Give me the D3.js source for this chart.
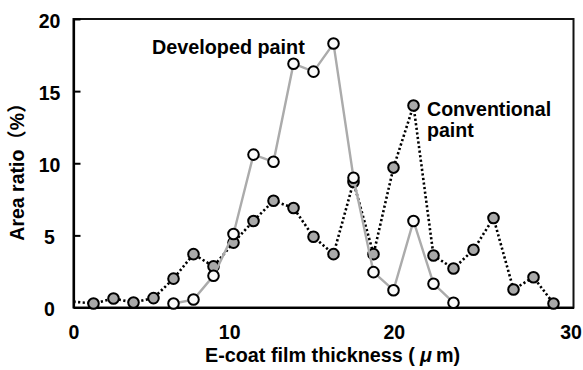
<!DOCTYPE html>
<html>
<head>
<meta charset="utf-8">
<script src="https://cdn.jsdelivr.net/npm/d3@7/dist/d3.min.js"></script>
<style>
html,body{margin:0;padding:0;background:#fff;}
svg{display:block;}
text{font-family:"Liberation Sans",Arial,"Noto Sans CJK JP",sans-serif;font-weight:bold;fill:#000;}
</style>
</head>
<body>
<svg id="chart" width="583" height="370"></svg>
<script>
// Conventional paint (grey markers, dotted black line); first point at x=0 has no marker
const convX = [0, 1.2, 2.4, 3.6, 4.8, 6.0, 7.2, 8.4, 9.6, 10.8, 12.0, 13.2, 14.4, 15.6, 16.8, 18.0, 19.2, 20.4, 21.6, 22.8, 24.0, 25.2, 26.4, 27.6, 28.8];
const convY = [0.4, 0.28, 0.62, 0.35, 0.65, 2.0, 3.7, 2.85, 4.5, 6.0, 7.4, 6.9, 4.9, 3.7, 8.7, 3.7, 9.7, 14.0, 3.6, 2.7, 4.0, 6.2, 1.25, 2.1, 0.28];
// Developed paint (white markers, solid grey line)
const devX = [6.0, 7.2, 8.4, 9.6, 10.8, 12.0, 13.2, 14.4, 15.6, 16.8, 18.0, 19.2, 20.4, 21.6, 22.8];
const devY = [0.28, 0.55, 2.2, 5.1, 10.6, 10.1, 16.9, 16.35, 18.3, 9.0, 2.45, 1.2, 6.0, 1.65, 0.33];
const yTicks = [0, 5, 10, 15, 20];
const xTicks = [0, 10, 20, 30];

const svg = d3.select("#chart");
const xs = d3.scaleLinear().domain([0, 30]).range([73.5, 573.5]);
const ys = d3.scaleLinear().domain([0, 20]).range([307.5, 19]);

// plot frame (top/right)
svg.append("rect").attr("x", xs(0)).attr("y", ys(20)).attr("width", xs(30) - xs(0)).attr("height", ys(0) - ys(20))
  .attr("fill", "none").attr("stroke", "#111").attr("stroke-width", 2);

// y axis
const yAxis = d3.axisLeft(ys).tickValues(yTicks).tickSizeInner(-7).tickSizeOuter(0).tickFormat(d3.format("d"));
const gy = svg.append("g").attr("transform", `translate(${xs(0)},0)`).call(yAxis);
gy.select(".domain").attr("stroke", "#000").attr("stroke-width", 2.2);
gy.selectAll(".tick line").attr("stroke", "#000").attr("stroke-width", 2);
gy.selectAll(".tick text").attr("x", -24).attr("text-anchor", "middle").attr("dy", "0.42em")
  .style("font-size", "19.5px").style("font-family", '"Liberation Sans",Arial,sans-serif').style("font-weight", "bold");

// x axis
const xAxis = d3.axisBottom(xs).tickValues(xTicks).tickSize(0).tickFormat(d3.format("d"));
const gx = svg.append("g").attr("transform", `translate(0,${ys(0)})`).call(xAxis);
gx.select(".domain").attr("stroke", "#000").attr("stroke-width", 2.2);
const xLabelShift = [0, -11, -13, -3];
gx.selectAll(".tick text").attr("y", 18).attr("dy", "0.71em")
  .attr("dx", (d, i) => xLabelShift[i])
  .style("font-size", "19.5px").style("font-family", '"Liberation Sans",Arial,sans-serif').style("font-weight", "bold");

const conv = convX.map((v, i) => ({x: v, y: convY[i]}));
const dev = devX.map((v, i) => ({x: v, y: devY[i]}));
const line = d3.line().x(d => xs(d.x)).y(d => ys(d.y));

svg.append("path").datum(conv).attr("d", line).attr("fill", "none")
  .attr("stroke", "#000").attr("stroke-width", 2.6).attr("stroke-dasharray", "2.2,2.4");
svg.append("g").selectAll("circle").data(conv.slice(1)).join("circle")
  .attr("cx", d => xs(d.x)).attr("cy", d => ys(d.y)).attr("r", 5.3)
  .attr("fill", "#a9a9a9").attr("stroke", "#000").attr("stroke-width", 2);

svg.append("path").datum(dev).attr("d", line).attr("fill", "none")
  .attr("stroke", "#ababab").attr("stroke-width", 2.4);
svg.append("g").selectAll("circle").data(dev).join("circle")
  .attr("cx", d => xs(d.x)).attr("cy", d => ys(d.y)).attr("r", 5.3)
  .attr("fill", "#fafafa").attr("stroke", "#000").attr("stroke-width", 2);

// series labels
svg.append("text").attr("x", 152).attr("y", 54).style("font-size", "19.8px").text("Developed paint");
svg.append("text").attr("x", 427).attr("y", 116).style("font-size", "19.6px").text("Conventional");
svg.append("text").attr("x", 427).attr("y", 137).style("font-size", "19.6px").text("paint");

// axis titles
const xt = svg.append("text").attr("x", 205).attr("y", 362).style("font-size", "19.8px");
xt.append("tspan").text("E-coat film thickness (");
xt.append("tspan").attr("dx", 5).style("font-style", "italic").text("μ");
xt.append("tspan").attr("dx", 4).text("m)");

svg.append("text").attr("transform", "translate(24,167) rotate(-90)").attr("text-anchor", "middle")
  .style("font-size", "19.5px").text("Area ratio（%）");
</script>
</body>
</html>
